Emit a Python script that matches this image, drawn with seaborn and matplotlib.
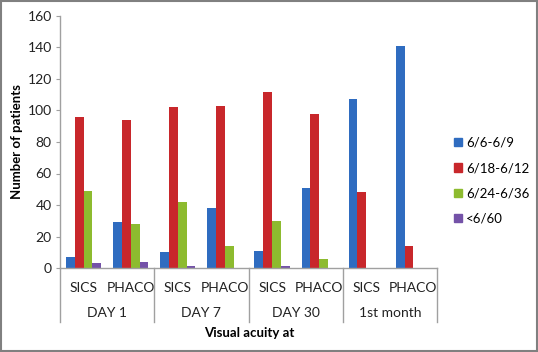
import pandas as pd
import numpy as np
import seaborn as sns
import matplotlib.pyplot as plt
import matplotlib.patches as mpatches
import matplotlib.transforms as mtransforms

# data
periods = ["DAY 1", "DAY 7", "DAY 30", "1st month"]
techniques = ["SICS", "PHACO"]
acuity = ["6/6-6/9", "6/18-6/12", "6/24-6/36", "<6/60"]

# one value per (period, technique), in order DAY1 SICS, DAY1 PHACO, ...
good = [7, 29, 10, 38, 11, 51, 107, 141]        # 6/6-6/9
fair = [96, 94, 102, 103, 112, 98, 48, 14]      # 6/18-6/12
poor = [49, 28, 42, 14, 30, 6, 0, 0]            # 6/24-6/36
blind = [3, 4, 1, 0, 1, 0, 0, 0]                # <6/60

colors = ["#2f6cc0", "#c8272b", "#8dbb2f", "#7452a8"]

cats = [p + "|" + t for p in periods for t in techniques]
df = pd.DataFrame(
    {"cat": cats * 4,
     "acuity": np.repeat(acuity, len(cats)),
     "n": good + fair + poor + blind}
)

plt.rcParams["font.family"] = ["Lato", "DejaVu Sans"]
fig = plt.figure(figsize=(5.38, 3.52), dpi=100)
ax = fig.add_axes([60 / 538, 84 / 352, 377 / 538, 252 / 352])

sns.barplot(data=df, x="cat", y="n", hue="acuity", order=cats,
            hue_order=acuity, palette=colors, width=0.75, saturation=1,
            ax=ax, legend=False)

for bar in ax.patches:
    bar.set_edgecolor("none")

ax.set_ylim(0, 160)
ax.set_yticks(range(0, 161, 20))
ax.set_xlim(-0.5, len(cats) - 0.5)
ax.tick_params(axis="y", labelsize=10, length=3, color="#a0a0a0", pad=3,
               labelcolor="#222222")
ax.tick_params(axis="x", length=0, labelsize=10, pad=10, labelcolor="#222222")
ax.set_xticks(range(len(cats)))
ax.set_xticklabels([c.split("|")[1] for c in cats])
for s in ["top", "right"]:
    ax.spines[s].set_visible(False)
for s in ["left", "bottom"]:
    ax.spines[s].set_color("#a0a0a0")
    ax.spines[s].set_linewidth(1)

ax.set_ylabel("Number of patients", fontsize=9.5, fontweight="bold")
ax.yaxis.set_label_coords((23 - 60) / 377, 0.5)
ax.set_xlabel("")

# group labels and separators below the axis
trans = mtransforms.blended_transform_factory(ax.transData, fig.transFigure)
for i, p in enumerate(periods):
    ax.text(2 * i + 0.5, 1 - 313 / 352, p, transform=trans, ha="center",
            va="center", fontsize=10, color="#222222")
for k in range(len(periods) + 1):
    ax.add_line(plt.Line2D([2 * k - 0.5, 2 * k - 0.5],
                           [1 - 268 / 352, 1 - 322 / 352],
                           transform=trans, color="#a0a0a0", lw=1,
                           clip_on=False))
fig.text(249 / 538, 1 - 333 / 352, "Visual acuity at", ha="center",
         va="center", fontsize=9.5, fontweight="bold")

handles = [mpatches.Patch(color=c, label=a) for c, a in zip(colors, acuity)]
fig.legend(handles=handles, loc="upper left",
           bbox_to_anchor=(450 / 538, 1 - 133 / 352), frameon=False,
           fontsize=9.5, handlelength=0.6, handleheight=0.6, handletextpad=0.3,
           labelspacing=1.0, borderaxespad=0, borderpad=0.3)

fig.add_artist(mpatches.Rectangle((0.002, 0.003), 0.996, 0.994,
                                  transform=fig.transFigure, fill=False,
                                  edgecolor="#808080", lw=1.5))

fig.savefig("out.png", dpi=100)
